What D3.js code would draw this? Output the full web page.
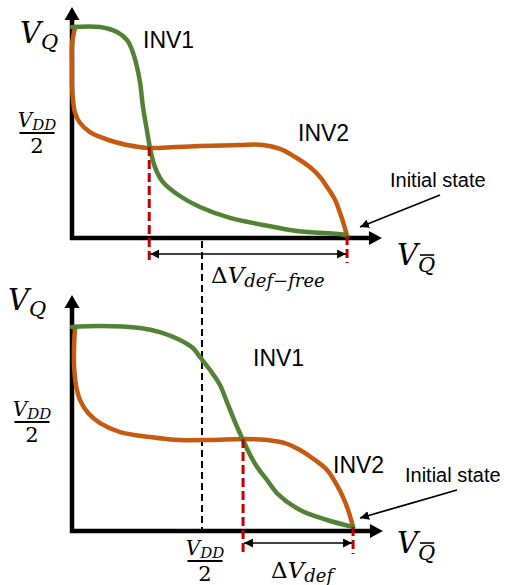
<!DOCTYPE html>
<html>
<head>
<meta charset="utf-8">
<script src="https://cdn.jsdelivr.net/npm/d3@7"></script>
<style>
  body { margin: 0; background: #fff; }
</style>
</head>
<body>
<svg id="chart" width="516" height="585"></svg>
<script>
// transfer curves, x = V_Qbar and y = V_Q, both in units of V_DD
const inv1TopX = [0, 0.108, 0.173, 0.212, 0.235, 0.25, 0.262, 0.273, 0.288, 0.3, 0.319, 0.35, 0.415, 0.492, 0.608, 0.735, 0.865, 1.05, 1.058]
const inv1TopY = [1.0, 1.0, 0.976, 0.938, 0.877, 0.81, 0.735, 0.621, 0.512, 0.427, 0.336, 0.265, 0.199, 0.147, 0.095, 0.062, 0.033, 0.014, 0.009]
const inv2TopX = [0.012, 0, 0, 0, 0.004, 0.012, 0.031, 0.069, 0.108, 0.165, 0.212, 0.292, 0.396, 0.492, 0.646, 0.735, 0.8, 0.858, 0.915, 0.954, 0.981, 1.012, 1.031, 1.046, 1.058]
const inv2TopY = [1.0, 0.915, 0.81, 0.725, 0.654, 0.592, 0.545, 0.502, 0.479, 0.455, 0.441, 0.427, 0.431, 0.436, 0.441, 0.441, 0.422, 0.384, 0.336, 0.289, 0.242, 0.18, 0.118, 0.062, 0.009]

const inv1BotX = [0, 0.108, 0.262, 0.338, 0.415, 0.465, 0.492, 0.531, 0.569, 0.596, 0.627, 0.658, 0.685, 0.712, 0.75, 0.788, 0.877, 0.981, 1.081]
const inv1BotY = [1.0, 1.005, 0.995, 0.975, 0.936, 0.897, 0.853, 0.789, 0.716, 0.632, 0.534, 0.446, 0.373, 0.314, 0.25, 0.186, 0.103, 0.054, 0.02]
const inv2BotX = [0.012, 0.008, 0.008, 0.015, 0.031, 0.062, 0.108, 0.185, 0.3, 0.415, 0.531, 0.658, 0.75, 0.819, 0.877, 0.935, 0.981, 1.019, 1.042, 1.062, 1.081]
const inv2BotY = [1.0, 0.912, 0.814, 0.716, 0.642, 0.578, 0.529, 0.485, 0.461, 0.446, 0.446, 0.451, 0.446, 0.431, 0.397, 0.348, 0.299, 0.225, 0.167, 0.103, 0.02]

// where the red guides drop down: crossing point and initial state
const markTopX = [0.297, 1.058]
const markBotX = [0.658, 1.081]
const halfVdd = 0.5

const green = '#548235'
const orange = '#c55a11'
const red = '#c00000'
const serif = 'DejaVu Serif, Liberation Serif, serif'
const sans = 'Liberation Sans, Arial, sans-serif'

const svg = d3.select('#chart')

const x = d3.scaleLinear().domain([0, 1]).range([72, 332])
const yTop = d3.scaleLinear().domain([0, 1]).range([238, 27])
const yBot = d3.scaleLinear().domain([0, 1]).range([531, 327])

const defs = svg.append('defs')
defs.append('marker')
  .attr('id', 'tip')
  .attr('viewBox', '0 0 10 10')
  .attr('refX', 10).attr('refY', 5)
  .attr('markerWidth', 9).attr('markerHeight', 9)
  .attr('markerUnits', 'userSpaceOnUse')
  .attr('orient', 'auto-start-reverse')
  .append('path')
  .attr('d', 'M0,0 L10,5 L0,10 z')
  .attr('fill', '#000')

function axes(y, yMax, xMax) {
  const x0 = x(0), y0 = y(0)
  const yt = y(yMax), xt = x(xMax)
  svg.append('line')
    .attr('x1', x0).attr('y1', y0 + 2)
    .attr('x2', x0).attr('y2', yt + 10)
    .attr('stroke', '#000').attr('stroke-width', 4.5)
  svg.append('path')
    .attr('d', `M${x0},${yt} L${x0 + 7.5},${yt + 13} L${x0 - 7.5},${yt + 13} Z`)
    .attr('fill', '#000')
  svg.append('line')
    .attr('x1', x0 - 2).attr('y1', y0)
    .attr('x2', xt - 10).attr('y2', y0)
    .attr('stroke', '#000').attr('stroke-width', 4.5)
  svg.append('path')
    .attr('d', `M${xt},${y0} L${xt - 13},${y0 - 7} L${xt - 13},${y0 + 7} Z`)
    .attr('fill', '#000')
}

function curve(xs, ys, y, colour) {
  const line = d3.line()
    .x(d => x(d[0]))
    .y(d => y(d[1]))
    .curve(d3.curveCatmullRom.alpha(0.5))
  svg.append('path')
    .attr('d', line(d3.zip(xs, ys)))
    .attr('fill', 'none')
    .attr('stroke', colour)
    .attr('stroke-width', 4.5)
    .attr('stroke-linecap', 'round')
}

function guides(marks, xs, ys, y, arrowY, bottomY) {
  marks.forEach(m => {
    const i = Math.min(d3.bisectLeft(xs, m), ys.length - 1)
    svg.append('line')
      .attr('x1', x(m)).attr('x2', x(m))
      .attr('y1', y(ys[i])).attr('y2', bottomY)
      .attr('stroke', red).attr('stroke-width', 3)
      .attr('stroke-dasharray', '9,4')
  })
  svg.append('line')
    .attr('x1', x(marks[0]) + 1).attr('x2', x(marks[1]) - 1)
    .attr('y1', arrowY).attr('y2', arrowY)
    .attr('stroke', '#000').attr('stroke-width', 1.5)
    .attr('marker-start', 'url(#tip)')
    .attr('marker-end', 'url(#tip)')
}

function vSub(px, py, size, main, sub, subSize, dy, opts = {}) {
  const t = svg.append('text')
    .attr('x', px).attr('y', py)
    .attr('font-family', serif)
    .attr('font-size', size)
  if (opts.delta) t.append('tspan').text('\u0394')
  t.append('tspan').attr('font-style', 'italic').text(main)
  const s = t.append('tspan')
    .attr('font-style', 'italic')
    .attr('font-size', subSize)
    .attr('dy', dy)
    .text(sub)
  if (opts.bar) {
    const b = s.node().getBBox()
    svg.append('line')
      .attr('x1', b.x + 2).attr('x2', b.x + b.width - 1)
      .attr('y1', b.y + 2).attr('y2', b.y + 2)
      .attr('stroke', '#000').attr('stroke-width', 1.6)
  }
  return t
}

function halfLabel(cx, barY) {
  const t = svg.append('text')
    .attr('x', cx).attr('y', barY - 6)
    .attr('text-anchor', 'middle')
    .attr('font-family', serif)
    .attr('font-style', 'italic')
    .attr('font-size', 20)
  t.append('tspan').text('V')
  t.append('tspan').attr('font-size', 15).attr('dy', 3).text('DD')
  svg.append('line')
    .attr('x1', cx - 17.5).attr('x2', cx + 17.5)
    .attr('y1', barY).attr('y2', barY)
    .attr('stroke', '#000').attr('stroke-width', 1.8)
  svg.append('text')
    .attr('x', cx).attr('y', barY + 20)
    .attr('text-anchor', 'middle')
    .attr('font-family', serif)
    .attr('font-size', 21)
    .text('2')
}

function words(px, py, size, str) {
  svg.append('text')
    .attr('x', px).attr('y', py)
    .attr('font-family', sans)
    .attr('font-size', size)
    .attr('fill', '#000')
    .text(str)
}

function pointer(x1, y1, x2, y2) {
  svg.append('line')
    .attr('x1', x1).attr('y1', y1)
    .attr('x2', x2).attr('y2', y2)
    .attr('stroke', '#000').attr('stroke-width', 1.8)
    .attr('marker-end', 'url(#tip)')
}

// black V_DD/2 guide joining both panels
svg.append('line')
  .attr('x1', x(halfVdd)).attr('x2', x(halfVdd))
  .attr('y1', yTop(0) + 3).attr('y2', yBot(0))
  .attr('stroke', '#000').attr('stroke-width', 2)
  .attr('stroke-dasharray', '7,4')

// top panel: defect free
axes(yTop, 1.095, 1.192)
curve(inv2TopX, inv2TopY, yTop, orange)
curve(inv1TopX, inv1TopY, yTop, green)
guides(markTopX, inv2TopX, inv2TopY, yTop, 254, 263)

// bottom panel: with defect
axes(yBot, 1.157, 1.196)
curve(inv2BotX, inv2BotY, yBot, orange)
curve(inv1BotX, inv1BotY, yBot, green)
guides(markBotX, inv2BotX, inv2BotY, yBot, 543, 554)

// labels
vSub(20, 43, 29, 'V', 'Q', 21, 6)
vSub(8, 310, 29, 'V', 'Q', 21, 6)
vSub(397, 265, 29, 'V', 'Q', 21, 7, { bar: true })
vSub(397, 553, 29, 'V', 'Q', 21, 7, { bar: true })
halfLabel(37, 133)
halfLabel(32, 422)
halfLabel(205, 561)
vSub(211, 283, 23, 'V', 'def\u2212free', 18, 4, { delta: true })
vSub(271, 578, 23, 'V', 'def', 18, 4, { delta: true })

words(143, 48, 23, 'INV1')
words(298, 141, 23, 'INV2')
words(253, 366, 23, 'INV1')
words(333, 473, 23, 'INV2')
words(390, 187, 20, 'Initial state')
words(405, 482, 20, 'Initial state')

pointer(440, 195, 360, 227)
pointer(457, 490, 360, 518)
</script>
</body>
</html>
